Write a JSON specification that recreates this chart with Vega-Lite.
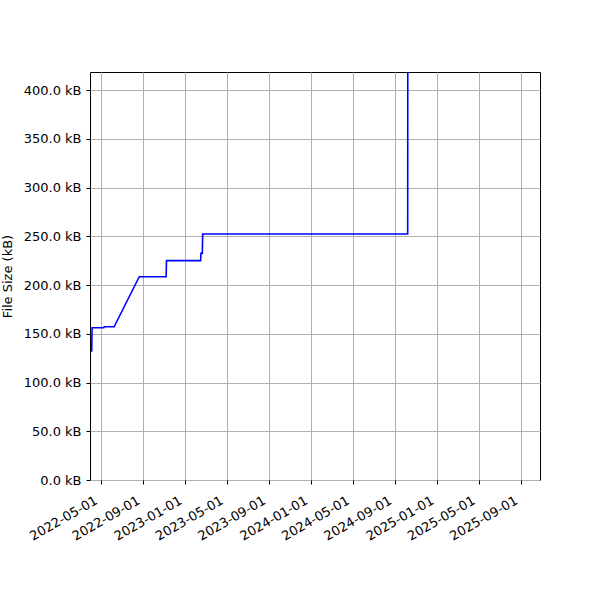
{
  "$schema": "https://vega.github.io/schema/vega-lite/v6.json",
  "width": 450,
  "height": 408,
  "autosize": {"type": "none"},
  "padding": {"left": 90, "top": 72, "right": 60, "bottom": 120},
  "background": "white",
  "config": {
    "font": "DejaVu Sans",
    "view": {"stroke": "black", "strokeWidth": 1},
    "axis": {
      "labelFont": "DejaVu Sans",
      "titleFont": "DejaVu Sans",
      "labelFontSize": 13,
      "titleFontSize": 13,
      "labelColor": "black",
      "titleColor": "black",
      "titleFontWeight": "normal",
      "domain": false,
      "tickColor": "black",
      "tickSize": 4,
      "tickWidth": 1,
      "gridColor": "#b0b0b0",
      "gridWidth": 1,
      "gridOpacity": 1
    }
  },
  "data": {
    "values": [
      {"date": "2022-04-04", "size": 131.6},
      {"date": "2022-04-05", "size": 156.2},
      {"date": "2022-05-09", "size": 156.2},
      {"date": "2022-05-10", "size": 157.2},
      {"date": "2022-06-08", "size": 157.2},
      {"date": "2022-08-20", "size": 208.5},
      {"date": "2022-11-06", "size": 208.5},
      {"date": "2022-11-07", "size": 225.0},
      {"date": "2023-02-14", "size": 225.0},
      {"date": "2023-02-15", "size": 232.5},
      {"date": "2023-02-19", "size": 232.5},
      {"date": "2023-02-20", "size": 252.3},
      {"date": "2024-10-07", "size": 252.3},
      {"date": "2024-10-08", "size": 1000.0}
    ]
  },
  "mark": {"type": "line", "color": "blue", "strokeWidth": 1.6, "clip": true},
  "encoding": {
    "x": {
      "field": "date",
      "type": "temporal",
      "scale": {"domain": ["2022-03-30", "2025-10-26"]},
      "axis": {
        "title": null,
        "values": ["2022-05-01", "2022-09-01", "2023-01-01", "2023-05-01", "2023-09-01", "2024-01-01", "2024-05-01", "2024-09-01", "2025-01-01", "2025-05-01", "2025-09-01"],
        "format": "%Y-%m-%d",
        "labelAngle": -30,
        "labelAlign": "right",
        "labelBaseline": "top",
        "labelOverlap": false,
        "labelPadding": 10,
        "labelOffset": -8
      }
    },
    "y": {
      "field": "size",
      "type": "quantitative",
      "scale": {"domain": [0, 418.5], "nice": false},
      "axis": {
        "title": "File Size (kB)",
        "values": [0, 50, 100, 150, 200, 250, 300, 350, 400],
        "labelExpr": "format(datum.value, '.1f') + ' kB'",
        "labelPadding": 5,
        "titlePadding": 9
      }
    }
  }
}
